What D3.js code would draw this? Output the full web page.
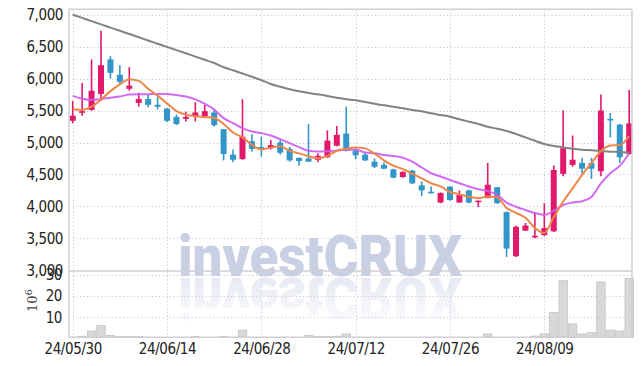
<!DOCTYPE html>
<html><head><meta charset="utf-8">
<script src="https://cdn.jsdelivr.net/npm/d3@7"></script>
<style>body{margin:0;background:#fff;} svg{display:block}</style>
</head><body><svg id="c" width="642" height="366"></svg>
<script>
const dates = ["24/05/30","24/05/31","24/06/03","24/06/04","24/06/05","24/06/07","24/06/10","24/06/11","24/06/12","24/06/13",
"24/06/14","24/06/17","24/06/18","24/06/19","24/06/20","24/06/21","24/06/24","24/06/25","24/06/26","24/06/27",
"24/06/28","24/07/01","24/07/02","24/07/03","24/07/04","24/07/05","24/07/08","24/07/09","24/07/10","24/07/11",
"24/07/12","24/07/15","24/07/16","24/07/17","24/07/18","24/07/19","24/07/22","24/07/23","24/07/24","24/07/25",
"24/07/26","24/07/29","24/07/30","24/07/31","24/08/01","24/08/02","24/08/05","24/08/06","24/08/07","24/08/08",
"24/08/09","24/08/12","24/08/13","24/08/14","24/08/16","24/08/19","24/08/20","24/08/21","24/08/22","24/08/23"];
const tickDates = ["24/05/30","24/06/14","24/06/28","24/07/12","24/07/26","24/08/09"];
const priceTicks = [3000,3500,4000,4500,5000,5500,6000,6500,7000];
const volTicks = [10,20,30];

const open = [5340,5470,5510,5760,6300,6060,5840,5620,5680,5590,5530,5400,5370,5410,5410,5470,5210,4810,4740,5020,
4930,4910,5000,4900,4760,4750,4730,4770,4950,5140,4870,4810,4700,4650,4580,4460,4560,4330,4230,4060,
4310,4060,4250,4085,4130,4300,3910,3220,3620,3520,3550,3610,4510,4650,4680,4680,4550,5370,5280,4820];
const high = [5650,5930,6300,6750,6350,6210,6180,5780,5750,5720,5540,5440,5480,5630,5590,5510,5210,4890,5680,5130,
5090,5040,5040,4930,4760,5290,4830,5190,5260,5560,4910,4850,4750,4690,4590,4550,4570,4390,4310,4220,
4310,4250,4260,4090,4680,4300,3920,3700,3740,3910,4050,4640,5500,5110,4760,4760,5750,5460,5290,5820];
const low = [5300,5420,5495,5650,6000,5910,5810,5560,5550,5520,5320,5270,5330,5330,5380,5250,4720,4690,4730,4860,
4780,4890,4810,4700,4640,4700,4690,4760,4940,4860,4740,4710,4600,4580,4440,4450,4350,4160,4200,4050,
4090,4060,4050,3990,4130,4040,3210,3210,3620,3500,3540,3600,4470,4620,4510,4430,4470,5080,4680,4810];
const close = [5420,5490,5810,6210,6090,5950,5890,5680,5590,5560,5340,5290,5400,5470,5490,5270,4820,4730,5090,4900,
4920,4960,4840,4720,4710,4700,4790,5030,5120,4870,4800,4720,4620,4590,4450,4540,4360,4250,4210,4210,
4100,4180,4060,4090,4340,4050,3340,3680,3700,3540,3660,4570,4910,4730,4590,4590,5500,5350,4770,5300];
const volume = [0.7,1.1,3.6,6.2,1.5,1.0,1.0,1.0,0.4,0.4,0.3,0.3,0.4,1.0,0.4,0.3,1.0,0.4,4.0,0.4,
0.3,0.3,0.4,0.4,0.5,1.5,1.0,1.0,1.1,2.2,0.5,0.4,0.3,0.3,0.3,0.3,0.4,0.4,0.3,0.3,
0.4,0.4,0.4,0.5,2.2,0.5,0.5,0.4,0.5,1.2,2.2,12.3,27.2,6.9,2.2,2.8,26.6,4.0,3.6,28.3];
const ma5 = [5520,5510,5560,5670,5804,5910,5990,5964,5840,5734,5612,5492,5436,5412,5398,5384,5290,5156,5080,4962,
4892,4920,4942,4868,4830,4786,4752,4790,4870,4902,4922,4908,4826,4720,4636,4584,4512,4438,4362,4314,
4226,4190,4152,4128,4154,4144,3976,3900,3822,3662,3584,3830,4076,4282,4492,4678,4864,4952,4960,5102];
const ma20 = [5730,5686,5668,5680,5702,5720,5750,5757,5757,5760,5760,5744,5720,5674,5605,5515,5381,5303,5225,5172,
5147,5109,5053,4991,4928,4870,4859,4865,4875,4886,4886,4844,4830,4805,4788,4762,4700,4609,4519,4467,
4414,4363,4311,4269,4240,4180,4060,3995,3944,3897,3866,3930,4022,4060,4080,4148,4360,4519,4634,4828];
const ma60 = [7000,6950,6900,6848,6798,6748,6698,6648,6596,6546,6496,6446,6396,6344,6294,6244,6177,6130,6080,6028,
5977,5915,5873,5833,5801,5775,5754,5728,5701,5676,5660,5634,5607,5582,5560,5535,5509,5488,5457,5430,
5404,5363,5326,5290,5247,5216,5180,5133,5081,5028,4977,4945,4925,4903,4887,4878,4867,4856,4851,4840];

const L = 69, R = 632, T = 9.3, PB = 271, VB = 337.3;
const UP = "#e2196b", DOWN = "#3296c8";
const svg = d3.select("#c");
const x = d3.scalePoint().domain(dates).range([72.7, 629.2]);
const y = d3.scaleLinear().domain([3000,7000]).range([270.3,14.7]);
const yv = d3.scaleLinear().domain([0,30]).range([338.6,274.7]);

// grid
const grid = svg.append("g").attr("stroke","#c3c8dc").attr("stroke-width",1).attr("stroke-dasharray","1.2,2.4");
grid.selectAll(".h").data(priceTicks.filter(d=>d>3000)).join("line")
  .attr("x1",L).attr("x2",R).attr("y1",d=>Math.round(y(d))+0.5).attr("y2",d=>Math.round(y(d))+0.5);
grid.selectAll(".hv").data(volTicks).join("line")
  .attr("x1",L).attr("x2",R).attr("y1",d=>Math.round(yv(d))+0.5).attr("y2",d=>Math.round(yv(d))+0.5);
grid.selectAll(".v").data(tickDates).join("line")
  .attr("x1",d=>Math.round(x(d))+0.5).attr("x2",d=>Math.round(x(d))+0.5).attr("y1",T).attr("y2",VB);

// watermark
const defs = svg.append("defs");
const gr = defs.append("linearGradient").attr("id","refl").attr("gradientUnits","userSpaceOnUse")
  .attr("x1",0).attr("x2",0).attr("y1",276).attr("y2",236);
gr.append("stop").attr("offset",0).attr("stop-color","#cfd5e7").attr("stop-opacity",0.85);
gr.append("stop").attr("offset",1).attr("stop-color","#cfd5e7").attr("stop-opacity",0.2);
const wm = svg.append("g").attr("font-family","Roboto, 'Open Sans', sans-serif").attr("font-weight",900).attr("font-size",58);
wm.append("text").attr("x",178).attr("y",276).attr("textLength",284).attr("lengthAdjust","spacingAndGlyphs")
  .attr("fill","#c9d0e4").text("investCRUX");
wm.append("text").attr("x",178).attr("y",276).attr("textLength",284).attr("lengthAdjust","spacingAndGlyphs")
  .attr("transform","translate(0,554) scale(1,-1)").attr("fill","url(#refl)").attr("fill-opacity",0.6).text("investCRUX");

// volume bars
const bw = x.step();
svg.append("g").selectAll("rect").data(volume.map((v,i)=>({v,d:dates[i]}))).join("rect")
  .filter(o=>yv(o.v) < VB - 0.3)
  .attr("x",o=>x(o.d)-bw/2+0.5).attr("width",bw-1)
  .attr("y",o=>yv(o.v)).attr("height",o=>VB-yv(o.v))
  .attr("fill","#d8d8d8").attr("stroke","#c4c4c4").attr("stroke-width",0.8);

// candles
const cd = dates.map((d,i)=>({d,o:open[i],h:high[i],l:low[i],c:close[i]}));
const cg = svg.append("g");
cg.selectAll("line").data(cd).join("line")
  .attr("x1",o=>x(o.d)).attr("x2",o=>x(o.d)).attr("y1",o=>y(o.h)).attr("y2",o=>y(o.l))
  .attr("stroke",o=>o.c>=o.o?UP:DOWN).attr("stroke-width",1.6);
cg.selectAll("rect").data(cd).join("rect")
  .attr("x",o=>x(o.d)-3).attr("width",6)
  .attr("y",o=>y(Math.max(o.o,o.c))).attr("height",o=>Math.max(1.6,Math.abs(y(o.o)-y(o.c))))
  .attr("fill",o=>o.c>=o.o?UP:DOWN);

// moving averages
const line = d3.line().x((v,i)=>x(dates[i])).y(v=>y(v)).curve(d3.curveMonotoneX);
svg.append("path").attr("d",line(ma60)).attr("fill","none").attr("stroke","#838383").attr("stroke-width",2);
svg.append("path").attr("d",line(ma20)).attr("fill","none").attr("stroke","#cc5cee").attr("stroke-width",2).attr("stroke-opacity",0.9);
svg.append("path").attr("d",line(ma5)).attr("fill","none").attr("stroke","#ee864a").attr("stroke-width",2);

// borders
const bd = svg.append("g").attr("stroke","#cfcfd4").attr("stroke-width",1.5).attr("fill","none");
bd.append("line").attr("x1",L).attr("x2",R).attr("y1",T).attr("y2",T);
bd.append("line").attr("x1",L).attr("x2",L).attr("y1",T).attr("y2",VB);
bd.append("line").attr("x1",R).attr("x2",R).attr("y1",T).attr("y2",VB);
bd.append("line").attr("x1",L).attr("x2",R).attr("y1",PB).attr("y2",PB);
bd.append("line").attr("x1",L).attr("x2",R).attr("y1",VB).attr("y2",VB);

// axes
const FONT = "'DejaVu Sans Condensed','DejaVu Sans',sans-serif";
function styleAxis(g){
  g.select(".domain").remove();
  g.selectAll("text").attr("font-family",FONT).attr("font-stretch","condensed")
    .attr("font-size",15).attr("font-weight",500).attr("fill","#222").attr("letter-spacing",-0.4);
}
svg.append("g").attr("transform",`translate(${L},0)`)
  .call(d3.axisLeft(y).tickValues(priceTicks).tickFormat(d3.format(",")).tickSize(0).tickPadding(6)).call(styleAxis);
svg.append("g").attr("transform",`translate(${L},0)`)
  .call(d3.axisLeft(yv).tickValues(volTicks).tickSize(0).tickPadding(7)).call(styleAxis);
svg.append("g").attr("transform",`translate(0,${VB})`)
  .call(d3.axisBottom(x).tickValues(tickDates).tickSize(0).tickPadding(6)).call(styleAxis);

// unit label
const ul = svg.append("text").attr("transform","translate(37,312) rotate(-90)")
  .attr("font-family","'DejaVu Serif',serif").attr("font-size",13).attr("fill","#444");
ul.append("tspan").text("10");
ul.append("tspan").attr("dy",-5).attr("font-size",10).text("6");
</script>
</body></html>
